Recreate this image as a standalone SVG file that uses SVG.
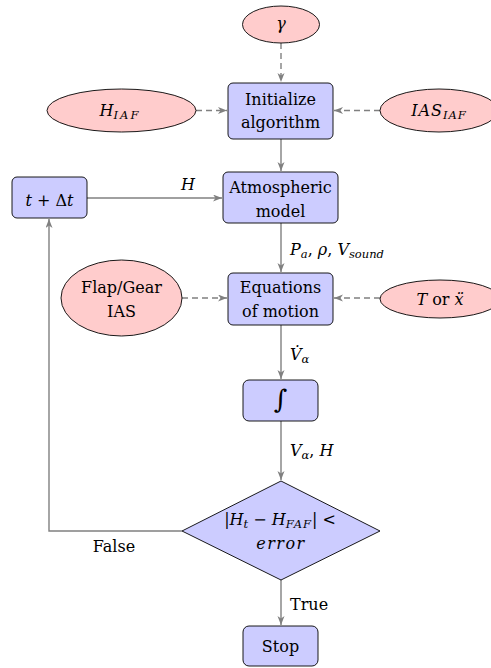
<svg xmlns="http://www.w3.org/2000/svg" width="491" height="668" viewBox="0 0 491 668">
<style>
.box{fill:#ccccff;stroke:#000;stroke-width:0.9}
.ell{fill:#ffcccc;stroke:#000;stroke-width:0.9}
text{font-family:'DejaVu Serif',serif;font-size:16px;fill:#000}
.m{font-style:italic}
.sub{font-size:11.5px}
.c{fill:none;stroke:#808080;stroke-width:1.4}
.d{stroke-dasharray:6,4}
</style>
<defs>
<marker id="ah" markerUnits="userSpaceOnUse" markerWidth="10" markerHeight="8" refX="9" refY="3.5" orient="auto">
<path d="M0,0 L9,3.5 L0,7 L2.5,3.5 z" fill="#808080"/>
</marker>
</defs>
<rect width="491" height="668" fill="#fff"/>
<g id="connectors">
<path class="c d" d="M281,43 V82" marker-end="url(#ah)"/>
<path class="c d" d="M196,110.5 H227" marker-end="url(#ah)"/>
<path class="c d" d="M380,110.5 H334" marker-end="url(#ah)"/>
<path class="c" d="M281,139 V171" marker-end="url(#ah)"/>
<path class="c" d="M87,198 H222" marker-end="url(#ah)"/>
<path class="c" d="M281,223 V272" marker-end="url(#ah)"/>
<path class="c d" d="M182,298 H227" marker-end="url(#ah)"/>
<path class="c d" d="M380,298 H334" marker-end="url(#ah)"/>
<path class="c" d="M281,325 V379" marker-end="url(#ah)"/>
<path class="c" d="M281,421 V480" marker-end="url(#ah)"/>
<path class="c" d="M281,580 V625" marker-end="url(#ah)"/>
<path class="c" d="M182,531 H49 V219" marker-end="url(#ah)"/>
<text class="m" x="188" y="190" text-anchor="middle">H</text>
<text x="290" y="255"><tspan class="m">P</tspan><tspan class="m sub" dy="3">a</tspan><tspan dy="-3">, </tspan><tspan class="m">ρ</tspan><tspan>, </tspan><tspan class="m">V</tspan><tspan class="m sub" dy="3">sound</tspan></text>
<text x="290" y="360"><tspan class="m">V̇</tspan><tspan class="m sub" dy="3">α</tspan></text>
<text x="290" y="456"><tspan class="m">V</tspan><tspan class="m sub" dy="3">α</tspan><tspan dy="-3">, </tspan><tspan class="m">H</tspan></text>
<text x="114" y="552" text-anchor="middle">False</text>
<text x="290" y="610">True</text>
</g>
<g id="gamma">
<ellipse class="ell" cx="281" cy="24.5" rx="38.5" ry="18.5"/>
<text class="m" x="281" y="29" text-anchor="middle">γ</text>
</g>
<g id="hiaf">
<ellipse class="ell" cx="121.5" cy="110.5" rx="74.5" ry="21.5"/>
<text x="120" y="116" text-anchor="middle"><tspan class="m">H</tspan><tspan class="m sub" dy="3" letter-spacing="2">IAF</tspan></text>
</g>
<g id="init">
<rect class="box" x="228" y="83" width="105" height="56" rx="5"/>
<text x="280.5" y="104.5" text-anchor="middle">Initialize</text>
<text x="280.5" y="128" text-anchor="middle">algorithm</text>
</g>
<g id="iasiaf">
<ellipse class="ell" cx="439" cy="110.5" rx="59" ry="21.5"/>
<text x="439" y="116" text-anchor="middle"><tspan class="m" letter-spacing="1">IAS</tspan><tspan class="m sub" dy="3" letter-spacing="1">IAF</tspan></text>
</g>
<g id="tdt">
<rect class="box" x="12" y="177" width="75" height="41" rx="5"/>
<text x="49.5" y="206" text-anchor="middle"><tspan class="m">t</tspan> + Δ<tspan class="m">t</tspan></text>
</g>
<g id="atmo">
<rect class="box" x="223" y="172" width="115" height="51" rx="5"/>
<text x="280.5" y="193" text-anchor="middle">Atmospheric</text>
<text x="280.5" y="216.5" text-anchor="middle">model</text>
</g>
<g id="flap">
<ellipse class="ell" cx="121.5" cy="298" rx="60.5" ry="38"/>
<text x="121.5" y="293" text-anchor="middle">Flap/Gear</text>
<text x="121.5" y="316.5" text-anchor="middle">IAS</text>
</g>
<g id="eqm">
<rect class="box" x="228" y="273" width="105" height="52" rx="5"/>
<text x="280.5" y="293" text-anchor="middle">Equations</text>
<text x="280.5" y="316.5" text-anchor="middle">of motion</text>
</g>
<g id="thrust">
<ellipse class="ell" cx="440" cy="299" rx="60" ry="19"/>
<text x="440" y="305" text-anchor="middle"><tspan class="m">T</tspan> or <tspan class="m">ẍ</tspan></text>
</g>
<g id="integ">
<rect class="box" x="243" y="380" width="75" height="41" rx="6"/>
<text class="m" x="280.5" y="408" text-anchor="middle" style="font-size:26px">∫</text>
</g>
<g id="cond">
<polygon class="box" points="281,481 380,531 281,580 182,531"/>
<text x="280" y="525" text-anchor="middle">|<tspan class="m">H</tspan><tspan class="m sub" dy="3">t</tspan><tspan dy="-3"> − </tspan><tspan class="m">H</tspan><tspan class="m sub" dy="3" letter-spacing="1">FAF</tspan><tspan dy="-3">| &lt;</tspan></text>
<text class="m" x="281" y="549" text-anchor="middle" letter-spacing="1.5">error</text>
</g>
<g id="stop">
<rect class="box" x="243" y="626" width="75" height="40" rx="6"/>
<text x="280.5" y="652" text-anchor="middle">Stop</text>
</g>
</svg>
